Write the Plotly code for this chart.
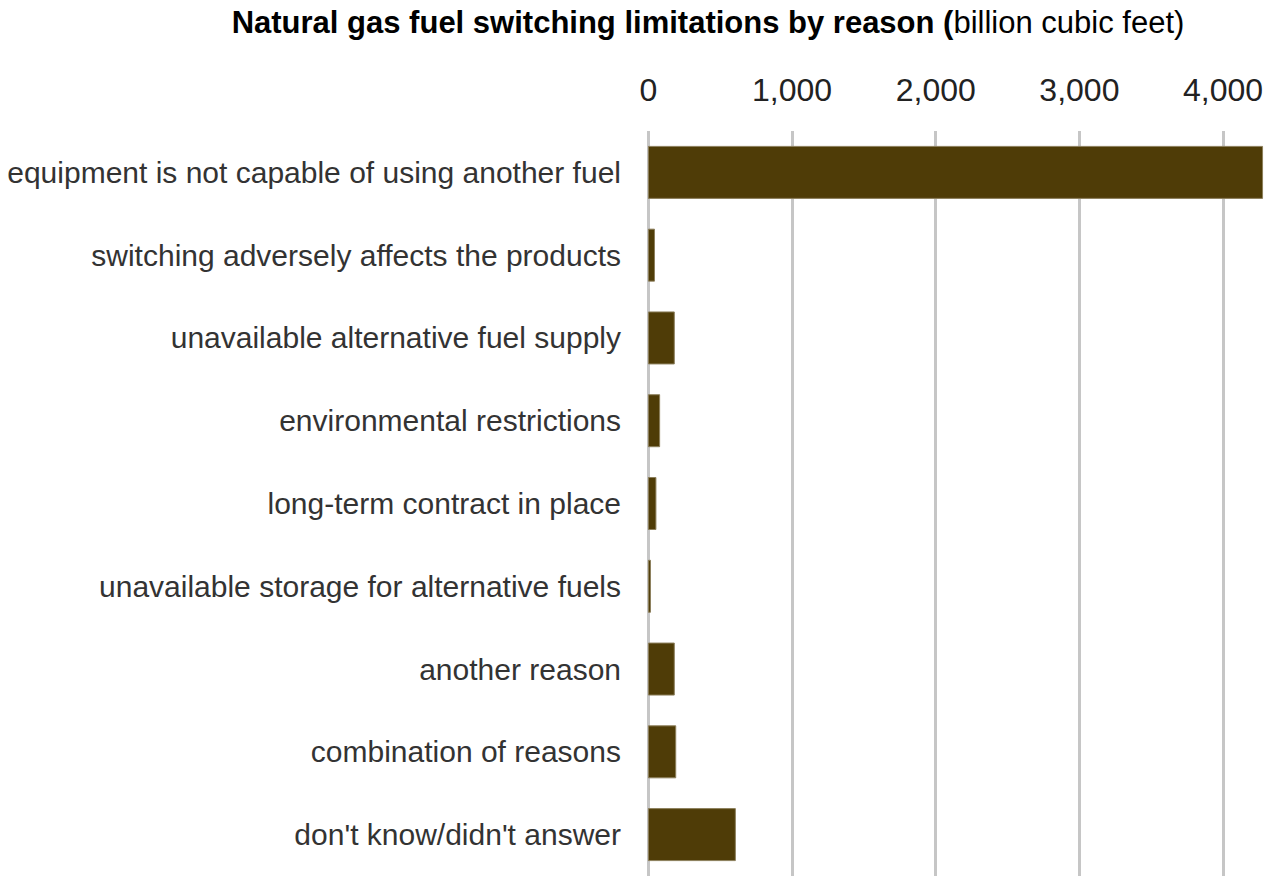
import plotly.graph_objects as go

categories = [
    "equipment is not capable of using another fuel",
    "switching adversely affects the products",
    "unavailable alternative fuel supply",
    "environmental restrictions",
    "long-term contract in place",
    "unavailable storage for alternative fuels",
    "another reason",
    "combination of reasons",
    "don't know/didn't answer",
]
values = [4275, 42, 180, 78, 52, 14, 180, 190, 605]
tick_vals = [0, 1000, 2000, 3000, 4000]
tick_text = ["0", "1,000", "2,000", "3,000", "4,000"]

FONT = "Liberation Sans, Arial, sans-serif"

fig = go.Figure(
    go.Bar(
        y=categories,
        x=values,
        orientation="h",
        marker=dict(color="#4f3c07", line=dict(color="#8c7f5c", width=1)),
        width=0.628,
        hoverinfo="skip",
    )
)

fig.update_layout(
    width=1270,
    height=876,
    paper_bgcolor="white",
    plot_bgcolor="white",
    margin=dict(l=647, r=6, t=131, b=0, pad=0),
    showlegend=False,
    font=dict(family=FONT, size=30, color="#333333"),
    title=dict(
        text="<b>Natural gas fuel switching limitations by reason (</b>billion cubic feet)",
        x=708 / 1270,
        xref="container",
        xanchor="center",
        y=1 - 22 / 876,
        yref="container",
        yanchor="middle",
        font=dict(family=FONT, size=31, color="#000000"),
    ),
)

fig.update_xaxes(
    side="top",
    range=[-10, 4285],
    tickvals=tick_vals,
    ticktext=tick_text,
    showgrid=True,
    gridcolor="#c6c6c6",
    gridwidth=2.5,
    zeroline=False,
    showline=False,
    ticks="",
    ticklabelstandoff=23,
    tickfont=dict(family=FONT, size=32, color="#222222"),
    fixedrange=True,
)
fig.update_yaxes(
    autorange="reversed",
    showgrid=False,
    zeroline=False,
    showline=False,
    ticks="",
    ticklabelstandoff=25,
    tickfont=dict(family=FONT, size=30, color="#333333"),
    fixedrange=True,
)

fig.write_html(
    "out.html",
    config={"displayModeBar": False},
    post_script="document.body.style.margin='0px';document.body.style.overflow='hidden';",
)
